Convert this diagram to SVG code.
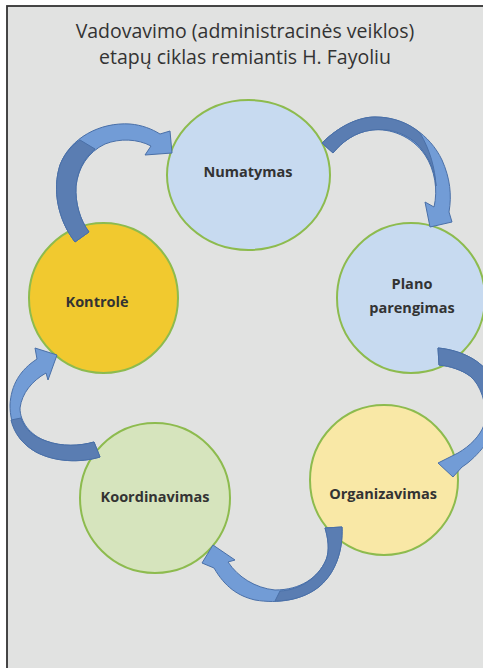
<svg xmlns="http://www.w3.org/2000/svg" width="483" height="668" viewBox="0 0 483 668">
<style>
.title{font-family:"Open Sans","Liberation Sans",sans-serif;font-size:19.5px;fill:#333;text-anchor:middle}
.lbl{font-family:"Open Sans","Liberation Sans",sans-serif;font-size:14.5px;font-weight:bold;fill:#333;text-anchor:middle}
.node{stroke:#8dbb4e;stroke-width:2}
.light{fill:#729cd6;stroke:#4a70a8;stroke-width:1}
.dark{fill:#5a7db2;stroke:#4a70a8;stroke-width:1}
</style>
<rect x="0" y="0" width="483" height="668" fill="#fff"/>
<rect x="7" y="6" width="490" height="680" fill="#e1e2e1" stroke="#333" stroke-width="1.8"/>
<text class="title" x="245" y="38">Vadovavimo (administracinės veiklos)</text>
<text class="title" x="245" y="64">etapų ciklas remiantis H. Fayoliu</text>
<g id="numatymas"><ellipse class="node" cx="248.5" cy="175" rx="81.5" ry="75" fill="#c7daf0"/><text class="lbl" x="248" y="177">Numatymas</text></g>
<g id="plano"><ellipse class="node" cx="411" cy="298" rx="74" ry="75" fill="#c7daf0"/><text class="lbl" x="412" y="289">Plano</text><text class="lbl" x="412" y="313">parengimas</text></g>
<g id="organizavimas"><ellipse class="node" cx="384" cy="480" rx="74" ry="75" fill="#f9e8a6"/><text class="lbl" x="383" y="499">Organizavimas</text></g>
<g id="koordinavimas"><ellipse class="node" cx="155" cy="498" rx="75" ry="75" fill="#d6e4bd"/><text class="lbl" x="155" y="502">Koordinavimas</text></g>
<g id="kontrole"><ellipse class="node" cx="103.5" cy="298" rx="74.5" ry="75" fill="#f1c92f"/><text class="lbl" x="97" y="307">Kontrolė</text></g>
<g id="connectors">
<g id="a1">
<path class="light" d="M75,242 C58,220 52,190 60,165 C70,138 100,122 130,124 C142,125 152,129 160,134 L170,131 L172,153 L145,155 L151,146 C138,139 120,138 105,144 C88,152 78,168 76,186 C75,203 80,220 89,232 Z"/>
<path class="dark" d="M75,242 C58,220 52,190 60,165 C64,155 70,147 80,140 L95,149 C84,158 78,170 76,186 C75,203 80,220 89,232 Z"/>
</g>
<g id="a2">
<path class="light" d="M322,143 C340,125 360,117 375,117 C405,117 430,135 442,160 C450,178 452,195 449,212 L452,222 L430,227 L425,202 L434,207 C438,190 435,170 425,155 C412,136 390,128 372,130 C355,132 342,142 333,153 Z"/>
<path class="dark" d="M322,143 C340,125 360,117 375,117 C395,117 410,124 420,133 C430,150 435,168 436,186 C435,170 428,154 415,142 C402,132 388,128 372,130 C355,132 342,142 333,153 Z"/>
</g>
<g id="a3">
<path class="light" d="M438,348 C460,350 482,360 492,378 C502,396 500,425 485,445 C478,454 470,462 462,467 L453,477 L438,463 L458,453 C470,446 480,436 484,425 C490,405 482,385 470,376 C462,370 450,366 439,365 Z"/>
<path class="dark" d="M438,348 C460,350 482,360 492,378 C499,392 500,408 497,420 L485,420 C487,405 481,385 470,376 C462,370 450,366 439,365 Z"/>
</g>
<g id="a4">
<path class="light" d="M342,527 C343,550 336,572 320,586 C303,600 278,604 255,600 C238,596 225,587 214,568 L202,563 L213,545 L235,560 L228,562 C238,577 255,588 275,590 C300,590 318,578 326,560 C330,550 328,538 325,528 Z"/>
<path class="dark" d="M342,527 C343,550 336,572 320,586 C308,596 292,601 275,601 L280,591 C300,590 318,578 326,560 C330,550 328,538 325,528 Z"/>
</g>
<g id="a5">
<path class="light" d="M100,457 C80,463 55,462 36,452 C18,442 10,425 10,405 C11,385 20,370 37,359 L35,348 L57,355 L48,380 L46,373 C32,381 22,393 20,408 C20,422 30,435 46,441 C62,447 80,446 94,442 Z"/>
<path class="dark" d="M100,457 C80,463 55,462 36,452 C22,444 14,433 11,420 L21,418 C25,430 34,437 46,441 C62,447 80,446 94,442 Z"/>
</g>
</g>
</svg>
